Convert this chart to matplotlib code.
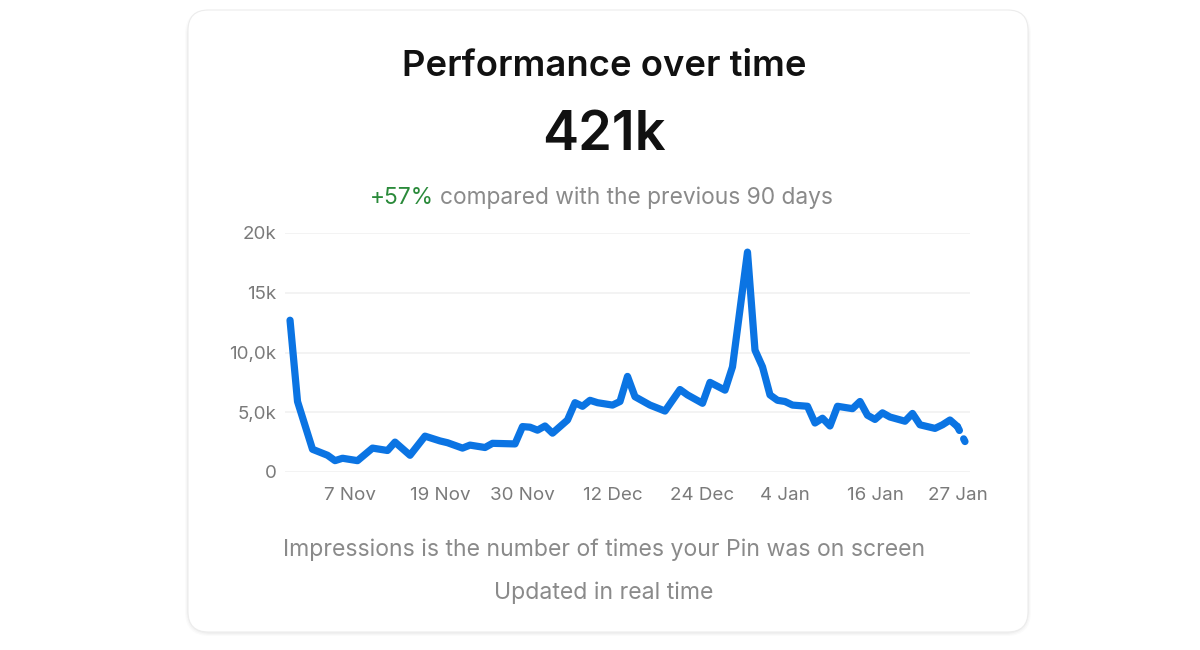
import datetime as dt
import matplotlib
matplotlib.use("Agg")
import matplotlib.pyplot as plt
import matplotlib.dates as mdates
from matplotlib.patches import FancyBboxPatch

# Data (impressions in thousands)
start = dt.date(2023, 10, 30)
day_offsets = [0, 1, 3, 5, 6, 7, 9, 11, 13, 14, 16, 18, 20, 21, 23, 24, 26,
               27, 30, 31, 32, 33, 34, 35, 37, 38, 39, 40, 41, 43, 44, 45, 46,
               48, 50, 52, 53, 55, 56, 58, 59, 61, 62, 63, 64, 65, 66, 67, 69,
               70, 71, 72, 73, 75, 76, 77, 78, 79, 80, 82, 83, 84, 86, 87, 88,
               89, 90]
impressions = [12.7, 5.9, 1.9, 1.4, 0.95, 1.15, 0.95, 2.0, 1.8, 2.5, 1.4, 3.0,
               2.6, 2.45, 2.0, 2.25, 2.05, 2.4, 2.35, 3.8, 3.75, 3.5, 3.85, 3.25,
               4.35, 5.8, 5.5, 6.0, 5.8, 5.6, 5.9, 8.0, 6.3, 5.6, 5.1, 6.9, 6.45,
               5.75, 7.5, 6.85, 8.8, 18.4, 10.2, 8.8, 6.45, 6.0, 5.9, 5.6, 5.5,
               4.1, 4.5, 3.85, 5.5, 5.3, 5.9, 4.75, 4.4, 4.95, 4.6, 4.25, 4.9,
               3.95, 3.65, 3.95, 4.35, 3.8, 2.55]
dates = [start + dt.timedelta(days=d) for d in day_offsets]

y_ticks = [0, 5, 10, 15, 20]
y_labels = ["0", "5,0k", "10,0k", "15k", "20k"]
x_tick_dates = [dt.date(2023, 11, 7), dt.date(2023, 11, 19), dt.date(2023, 11, 30),
                dt.date(2023, 12, 12), dt.date(2023, 12, 24), dt.date(2024, 1, 4),
                dt.date(2024, 1, 16), dt.date(2024, 1, 27)]
x_labels = ["7 Nov", "19 Nov", "30 Nov", "12 Dec", "24 Dec", "4 Jan", "16 Jan", "27 Jan"]

plt.rcParams["font.family"] = ["Inter", "DejaVu Sans"]

W, H = 1200, 650
fig = plt.figure(figsize=(12, 6.5), dpi=100)
fig.patch.set_facecolor("white")


def px(x, y):
    return x / W, 1 - y / H


# card with soft shadow
for i, a in enumerate([0.025, 0.02, 0.015]):
    sh = FancyBboxPatch(px(188 - 1 - i, 632 + 2 + i), (840 + 2 + 2 * i) / W, (622 + 2 * i) / H,
                        boxstyle="round,pad=0,rounding_size=0.02",
                        transform=fig.transFigure, facecolor="black", alpha=a,
                        edgecolor="none", zorder=-3, mutation_aspect=W / H)
    fig.patches.append(sh)
card = FancyBboxPatch(px(188, 632), 840 / W, 622 / H,
                      boxstyle="round,pad=0,rounding_size=0.017",
                      transform=fig.transFigure, facecolor="white",
                      edgecolor="#ececec", linewidth=0.8, zorder=-1,
                      mutation_aspect=W / H)
fig.patches.append(card)

# header texts
fig.text(*px(604, 66), "Performance over time", ha="center", va="center",
         fontsize=26.2, fontweight="semibold", color="#111111")
fig.text(*px(604, 136), "421k", ha="center", va="center",
         fontsize=39, fontweight="semibold", color="#111111")
t1 = fig.text(*px(370, 198), "+57%", ha="left", va="center",
              fontsize=16.4, color="#2a8a3a")
fig.canvas.draw()
bb = t1.get_window_extent()
fig.text((bb.x1 + 6) / W, 1 - 198 / H, "compared with the previous 90 days",
         ha="left", va="center", fontsize=16.4, color="#8a8a8a")

# chart
ax = fig.add_axes([285 / W, 1 - 472 / H, 685 / W, 239 / H])
ax.set_facecolor("none")
x0 = mdates.date2num(start)
ax.set_xlim(x0 - 0.67, x0 + 90.67)
ax.set_ylim(0, 20)

blue = "#0b74e3"
ax.plot(dates[:-1], impressions[:-1], color=blue, linewidth=5.2,
        solid_capstyle="round", solid_joinstyle="round", clip_on=False, zorder=3)
ax.plot(dates[-2:], impressions[-2:], color=blue, linewidth=5.2,
        linestyle=(0, (0.6, 1.3)), dash_capstyle="round", clip_on=False, zorder=3)

ax.set_yticks(y_ticks)
ax.set_yticklabels(y_labels)
ax.set_xticks(x_tick_dates)
ax.set_xticklabels(x_labels)
ax.tick_params(length=0, labelsize=13.5, labelcolor="#7a7a7a")
ax.tick_params(axis="y", pad=6)
ax.tick_params(axis="x", pad=11)
ax.grid(axis="y", color="#f1f1f1", linewidth=1.2)
ax.set_axisbelow(True)
for s in ax.spines.values():
    s.set_visible(False)

# footer
fig.text(*px(604, 550), "Impressions is the number of times your Pin was on screen",
         ha="center", va="center", fontsize=16.6, color="#8a8a8a")
fig.text(*px(604, 593), "Updated in real time", ha="center", va="center",
         fontsize=16.6, color="#8a8a8a")

fig.savefig("out.png", dpi=100, facecolor="white")
